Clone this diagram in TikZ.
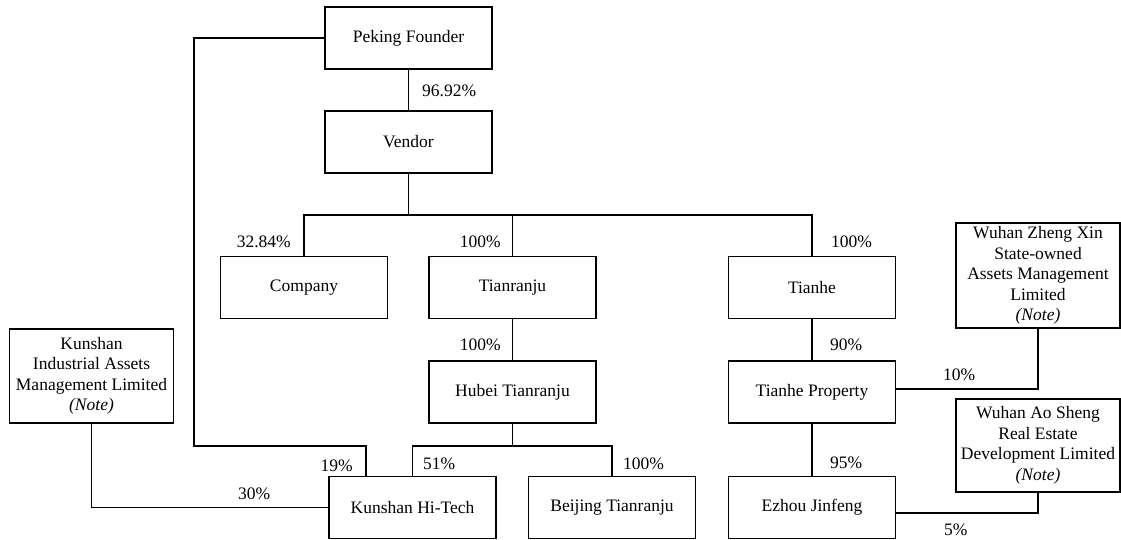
\documentclass[tikz,border=0pt]{standalone}
\usepackage{fontspec}
\setmainfont{Liberation Serif}
\begin{document}
\begin{tikzpicture}[x=1pt,y=-1pt,
  box/.style={draw, line width=1.2pt, minimum width=167pt, minimum height=62pt, inner sep=0pt, align=center, font=\fontsize{17.5}{20.5}\selectfont},
  nbox/.style={draw, line width=1.2pt, minimum width=164pt, inner sep=0pt, align=center, font=\fontsize{17.5}{20.5}\selectfont},
  pct/.style={inner sep=0pt, font=\fontsize{17.5}{20.5}\selectfont},
  conn/.style={line width=1.2pt}]
\useasboundingbox (0,0) rectangle (1121,540);
% boxes
\node[box] (pf) at (408.5,38) {Peking Founder};
\node[box] (vendor) at (408.5,142) {Vendor};
\node[box] (company) at (304,287.5) {Company};
\node[box] (tianranju) at (512.5,287.5) {Tianranju};
\node[box] (tianhe) at (812,287.5) {Tianhe};
\node[box] (hubei) at (512.5,392) {Hubei Tianranju};
\node[box] (tprop) at (812,392) {Tianhe Property};
\node[box] (kht) at (412.5,507.5) {Kunshan Hi-Tech};
\node[box] (beijing) at (612,507.5) {Beijing Tianranju};
\node[box] (ezhou) at (812,507.5) {Ezhou Jinfeng};
\node[nbox, minimum height=94pt] (kiam) at (91.5,376) {Kunshan\\Industrial Assets\\Management Limited\\\textit{(Note)}};
\node[nbox, minimum height=105pt] (wzx) at (1038,275.5) {Wuhan Zheng Xin\\State-owned\\Assets Management\\Limited\\\textit{(Note)}};
\node[nbox, minimum height=93pt] (was) at (1038,445.5) {Wuhan Ao Sheng\\Real Estate\\Development Limited\\\textit{(Note)}};
% connectors
\coordinate (vbus) at (408.5,215);
\coordinate (hbus) at (512.5,446);
\draw[conn] (pf) -- (vendor);
\draw[conn] (vendor) -- (vbus);
\draw[conn] (company.north) |- (vbus) -| (tianhe.north);
\draw[conn] (tianranju.north) -- (tianranju.north |- vbus);
\draw[conn] (tianranju) -- (hubei);
\draw[conn] (tianhe) -- (tprop);
\draw[conn] (tprop) -- (ezhou);
\draw[conn] (hubei) -- (hbus);
\draw[conn] (kht.north) |- (hbus) -| (beijing.north);
\draw[conn] (pf.west) -| (194,446) -| ([xshift=-46.5pt]kht.north);
\draw[conn] (kiam.south) |- (kht.west);
\draw[conn] (wzx.south) |- ([yshift=3pt]tprop.east);
\draw[conn] (was.south) |- ([yshift=-5.5pt]ezhou.east);
% labels
\node[pct, anchor=west] (l1) at (422,91) {96.92\%};
\node[pct, anchor=east] (l2) at (291,242) {32.84\%};
\node[pct, anchor=east] (l3) at (501,242) {100\%};
\node[pct, anchor=west] (l4) at (831,242) {100\%};
\node[pct, anchor=east] (l5) at (501,345) {100\%};
\node[pct, anchor=west] (l6) at (830,345) {90\%};
\node[pct, anchor=west] (l7) at (943,375) {10\%};
\node[pct, anchor=east] (l8) at (353,466) {19\%};
\node[pct, anchor=west] (l9) at (423,464) {51\%};
\node[pct, anchor=west] (l10) at (623,464) {100\%};
\node[pct, anchor=west] (l11) at (830,463) {95\%};
\node[pct, anchor=west] (l12) at (238,494) {30\%};
\node[pct, anchor=west] (l13) at (944,530) {5\%};
\end{tikzpicture}
\end{document}
